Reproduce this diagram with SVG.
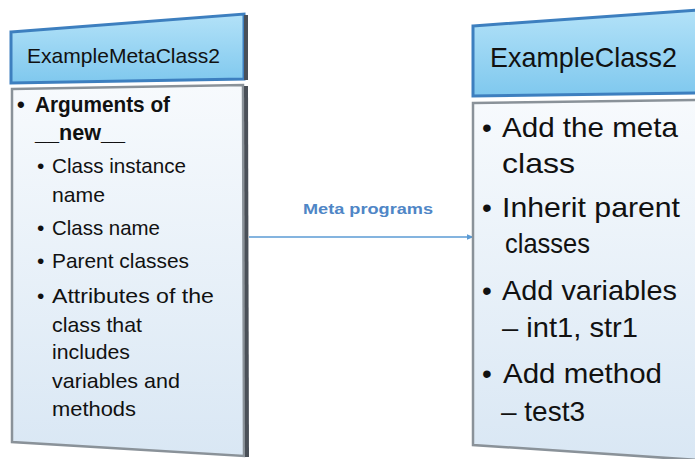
<svg xmlns="http://www.w3.org/2000/svg" width="695" height="459" viewBox="0 0 695 459">
<defs>
<linearGradient id="hdr" x1="0" y1="0" x2="0" y2="1">
<stop offset="0" stop-color="#b3e2f8"/>
<stop offset="1" stop-color="#7fc8ee"/>
</linearGradient>
<linearGradient id="body" x1="0" y1="0" x2="0" y2="1">
<stop offset="0" stop-color="#f7fafd"/>
<stop offset="1" stop-color="#d9e7f4"/>
</linearGradient>
<marker id="arr" viewBox="0 0 10 10" refX="9" refY="5" markerWidth="7" markerHeight="7" orient="auto" markerUnits="userSpaceOnUse">
<path d="M0,1 L10,5 L0,9 z" fill="#5b9bd5"/>
</marker>
</defs>
<style>
.hdr{fill:url(#hdr);stroke:#3d7fbf;stroke-width:3}
.body{fill:url(#body);stroke:#8a9299;stroke-width:2.5}
.shadow{fill:none;stroke:#4a5058;stroke-width:4}
text{font-family:"Liberation Sans",Arial,sans-serif;fill:#111}
.t1{font-size:21px}
.b1{font-size:22px;font-weight:bold}
.t2{font-size:21px}
.t3{font-size:28px}
.lbl{font-size:15px;font-weight:bold;fill:#4f86c6}
</style>
<rect width="695" height="459" fill="#ffffff"/>
<g id="connectors">
<line x1="249" y1="237" x2="473" y2="237" stroke="#5b9bd5" stroke-width="1.5" marker-end="url(#arr)"/>
<text class="lbl" x="303" y="214" textLength="130" lengthAdjust="spacingAndGlyphs">Meta programs</text>
</g>
<g id="ExampleMetaClass2">
<polygon class="body" points="12,89 243,85 244,456 12,442"/>
<line class="shadow" x1="246" y1="86" x2="247" y2="457"/>
<polygon class="hdr" points="11,32 244,14 244,79 11,83"/>
<line class="shadow" x1="246" y1="15" x2="246" y2="80" stroke="#2f5f8f"/>
<text class="t1" x="27" y="63" textLength="193" lengthAdjust="spacingAndGlyphs">ExampleMetaClass2</text>
<text class="b1" x="17" y="112">•</text>
<text class="b1" x="35" y="112" textLength="135" lengthAdjust="spacingAndGlyphs">Arguments of</text>
<text class="b1" x="35" y="140" textLength="90" lengthAdjust="spacingAndGlyphs">__new__</text>
<text class="t2" x="37" y="173">•</text>
<text class="t2" x="52" y="173" textLength="134" lengthAdjust="spacingAndGlyphs">Class instance</text>
<text class="t2" x="52" y="202" textLength="53" lengthAdjust="spacingAndGlyphs">name</text>
<text class="t2" x="37" y="235">•</text>
<text class="t2" x="52" y="235" textLength="108" lengthAdjust="spacingAndGlyphs">Class name</text>
<text class="t2" x="37" y="268">•</text>
<text class="t2" x="52" y="268" textLength="137" lengthAdjust="spacingAndGlyphs">Parent classes</text>
<text class="t2" x="37" y="303">•</text>
<text class="t2" x="52" y="303" textLength="162" lengthAdjust="spacingAndGlyphs">Attributes of the</text>
<text class="t2" x="52" y="332" textLength="90" lengthAdjust="spacingAndGlyphs">class that</text>
<text class="t2" x="52" y="359" textLength="78" lengthAdjust="spacingAndGlyphs">includes</text>
<text class="t2" x="52" y="388" textLength="128" lengthAdjust="spacingAndGlyphs">variables and</text>
<text class="t2" x="52" y="416" textLength="84" lengthAdjust="spacingAndGlyphs">methods</text>
</g>
<g id="ExampleClass2">
<polygon class="body" points="473,103 697,100 697,460 473,445"/>
<polygon class="hdr" points="473,26 697,10 697,93 473,96"/>
<text class="t3" x="490" y="67" textLength="187" lengthAdjust="spacingAndGlyphs">ExampleClass2</text>
<text class="t3" x="482" y="137">•</text>
<text class="t3" x="502" y="137" textLength="176" lengthAdjust="spacingAndGlyphs">Add the meta</text>
<text class="t3" x="502" y="173" textLength="73" lengthAdjust="spacingAndGlyphs">class</text>
<text class="t3" x="482" y="217">•</text>
<text class="t3" x="502" y="217" textLength="178" lengthAdjust="spacingAndGlyphs">Inherit parent</text>
<text class="t3" x="505" y="253" textLength="85" lengthAdjust="spacingAndGlyphs">classes</text>
<text class="t3" x="482" y="300">•</text>
<text class="t3" x="502" y="300" textLength="175" lengthAdjust="spacingAndGlyphs">Add variables</text>
<text class="t3" x="502" y="337" textLength="136" lengthAdjust="spacingAndGlyphs">– int1, str1</text>
<text class="t3" x="482" y="383">•</text>
<text class="t3" x="503" y="383" textLength="159" lengthAdjust="spacingAndGlyphs">Add method</text>
<text class="t3" x="501" y="421" textLength="84" lengthAdjust="spacingAndGlyphs">– test3</text>
</g>
</svg>
